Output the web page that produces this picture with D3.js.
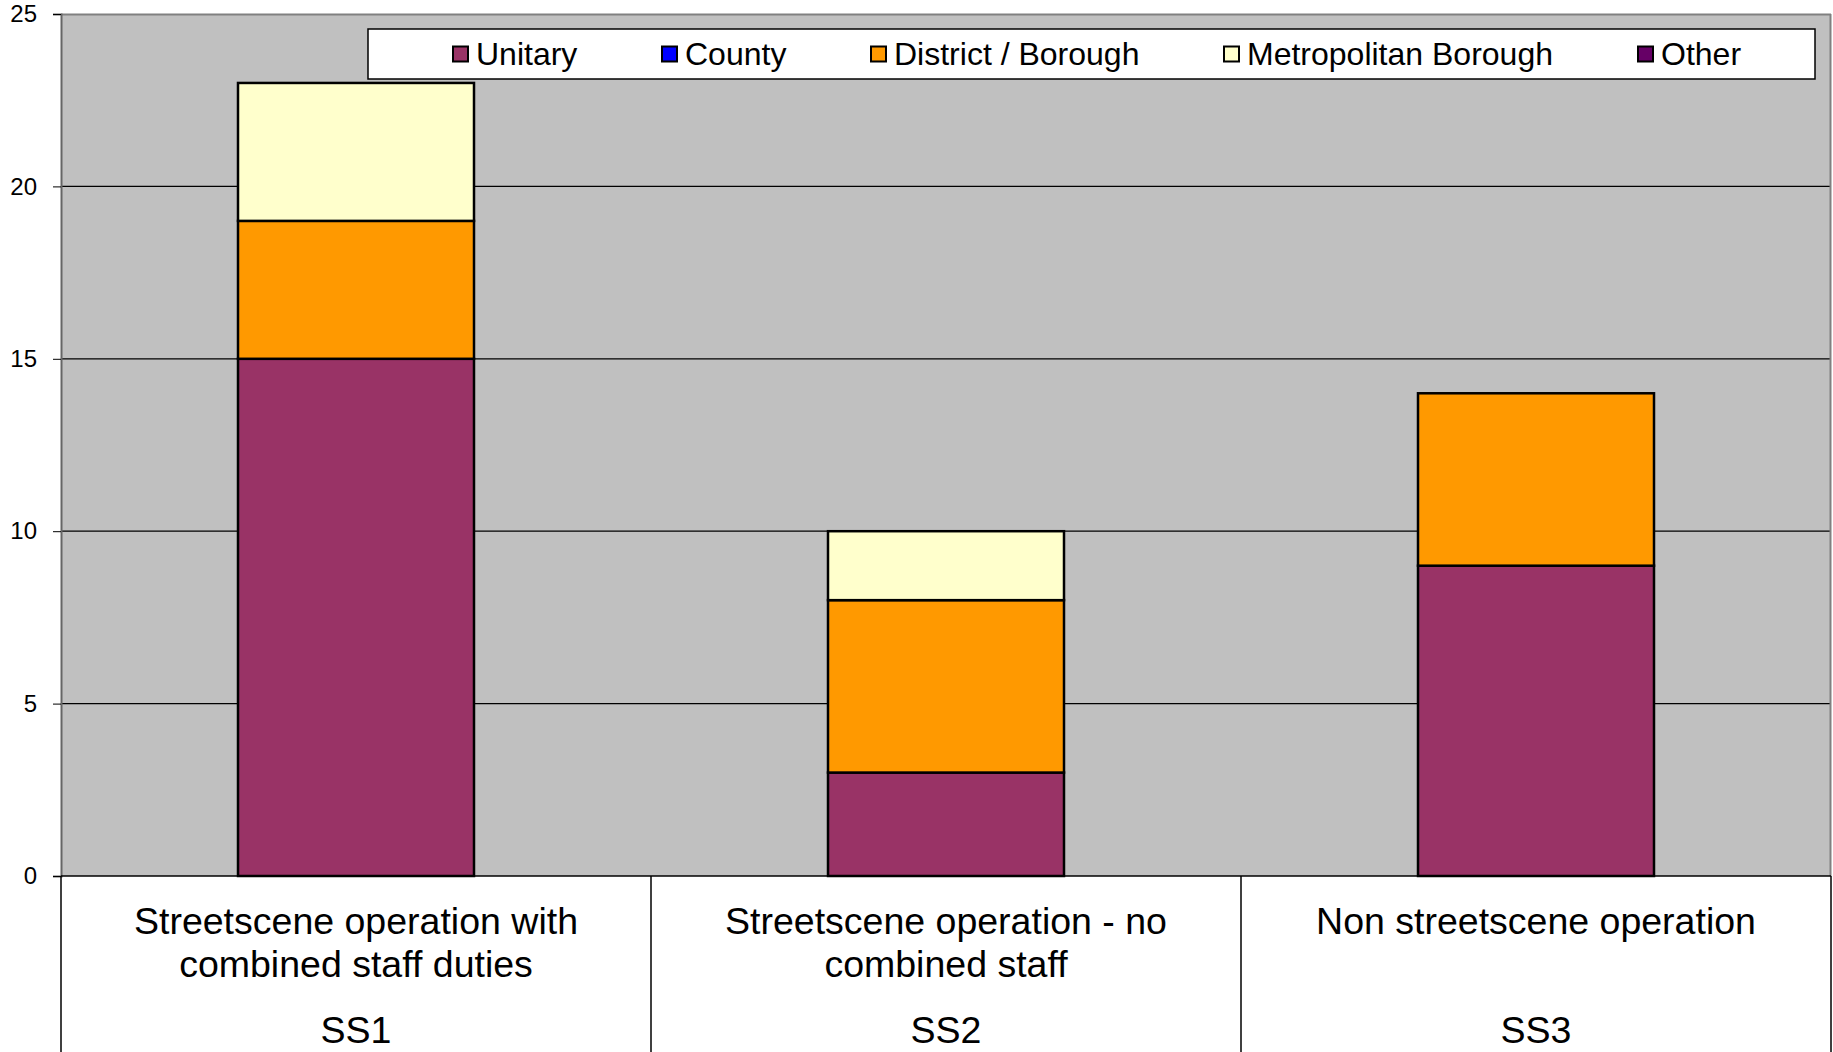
<!DOCTYPE html>
<html><head><meta charset="utf-8">
<script src="https://cdn.jsdelivr.net/npm/d3@7"></script>
<style>body{margin:0;background:#fff;} svg{display:block;font-family:"Liberation Sans",Arial,sans-serif;}</style>
</head><body>
<script>
const categories = ["SS1","SS2","SS3"];
const categoryLabels = [["Streetscene operation with","combined staff duties"],["Streetscene operation - no","combined staff"],["Non streetscene operation"]];
const seriesNames = ["Unitary","County","District / Borough","Metropolitan Borough","Other"];
const seriesColors = ["#993366","#0000FF","#FF9900","#FFFFCC","#660066"];
const unitary = [15,3,9];
const county = [0,0,0];
const district = [4,5,5];
const metropolitan = [4,2,0];
const other = [0,0,0];
const yTicks = [0,5,10,15,20,25];

const W=1833,H=1052;
const m={l:61,t:14,r:1831,b:876};
const svg=d3.select("body").append("svg").attr("width",W).attr("height",H);

const rows=categories.map((c,i)=>({cat:c,Unitary:unitary[i],County:county[i],"District / Borough":district[i],"Metropolitan Borough":metropolitan[i],Other:other[i]}));
const stack=d3.stack().keys(seriesNames)(rows);

const x=d3.scaleBand().domain(categories).range([m.l,m.r]).paddingInner(0.6).paddingOuter(0.3);
const xc=d3.scaleBand().domain(categories).range([m.l,m.r]).padding(0);
const y=d3.scaleLinear().domain([0,25]).range([m.b,m.t]);

svg.append("rect").attr("x",m.l).attr("y",m.t).attr("width",m.r-m.l).attr("height",m.b-m.t).attr("fill","#C0C0C0");

svg.append("g").selectAll("line").data(yTicks.filter(d=>d>0&&d<25)).join("line")
  .attr("x1",m.l).attr("x2",m.r).attr("y1",d=>y(d)).attr("y2",d=>y(d)).attr("stroke","#000").attr("stroke-width",1.2);

svg.append("line").attr("x1",m.l).attr("x2",m.r).attr("y1",m.t+0.5).attr("y2",m.t+0.5).attr("stroke","#808080").attr("stroke-width",2);
svg.append("line").attr("x1",m.r-0.5).attr("x2",m.r-0.5).attr("y1",m.t).attr("y2",m.b).attr("stroke","#808080").attr("stroke-width",2);

svg.append("g").selectAll("g").data(stack).join("g").attr("fill",(d,i)=>seriesColors[i])
  .selectAll("rect").data(d=>d.filter(s=>s[1]-s[0]>0)).join("rect")
  .attr("x",d=>x(d.data.cat)).attr("width",x.bandwidth())
  .attr("y",d=>y(d[1])).attr("height",d=>y(d[0])-y(d[1]))
  .attr("stroke","#000").attr("stroke-width",2.5);

const ya=svg.append("g").attr("transform",`translate(${m.l},0)`)
  .call(d3.axisLeft(y).tickValues(yTicks).tickSize(8).tickPadding(16).tickFormat(d3.format("d")));
ya.select(".domain").attr("stroke","#666").attr("stroke-width",2);
ya.selectAll(".tick line").attr("stroke","#000");
ya.selectAll(".tick text").attr("font-size",24).attr("fill","#000").attr("font-family","Liberation Sans, Arial, sans-serif");

svg.append("line").attr("x1",m.l).attr("x2",m.r).attr("y1",m.b).attr("y2",m.b).attr("stroke","#000").attr("stroke-width",1.5);
svg.append("g").selectAll("line").data(categories).join("line")
  .attr("x1",d=>xc(d)).attr("x2",d=>xc(d)).attr("y1",m.b).attr("y2",H).attr("stroke","#000").attr("stroke-width",1.5);
svg.append("line").attr("x1",m.r).attr("x2",m.r).attr("y1",m.b).attr("y2",H).attr("stroke","#000").attr("stroke-width",1.5);

const cl=svg.append("g").selectAll("g").data(categories).join("g");
cl.each(function(d,i){
  const g=d3.select(this);
  const cx=xc(d)+xc.bandwidth()/2;
  categoryLabels[i].forEach((t,j)=>{
    g.append("text").attr("x",cx).attr("y",921+j*43).attr("dy","0.35em").attr("text-anchor","middle").attr("font-size",37.5).text(t);
  });
  g.append("text").attr("x",cx).attr("y",1030).attr("dy","0.35em").attr("text-anchor","middle").attr("font-size",37.5).text(d);
});

svg.append("rect").attr("x",368).attr("y",29).attr("width",1447).attr("height",50).attr("fill","#fff").attr("stroke","#000").attr("stroke-width",1.5);
const legX=[453,662,871,1224,1638];
const lg=svg.append("g").selectAll("g").data(seriesNames).join("g").attr("transform",(d,i)=>`translate(${legX[i]},54)`);
lg.append("rect").attr("x",0).attr("y",-7.5).attr("width",15).attr("height",15).attr("fill",(d,i)=>seriesColors[i]).attr("stroke","#000").attr("stroke-width",2);
lg.append("text").attr("x",23).attr("y",0).attr("dy","0.35em").attr("font-size",32).text(d=>d);
</script>
</body></html>
